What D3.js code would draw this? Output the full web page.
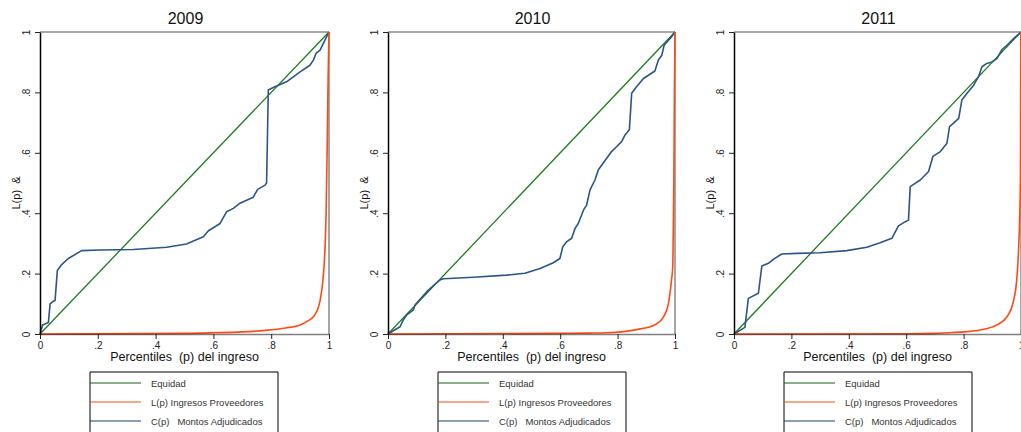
<!DOCTYPE html>
<meta charset="utf-8">
<script src="https://d3js.org/d3.v7.min.js"></script>
<style>
  body { margin: 0; background: #fff; }
  text { font-family: Arial, "Liberation Sans", sans-serif; }
</style>
<div id="chart"></div>
<script>

// ---- data ----
var years = ["2009", "2010", "2011"];
var tickValues = [0, .2, .4, .6, .8, 1];
var tickLabels = ["0", ".2", ".4", ".6", ".8", "1"];
var legendLabels = ["Equidad", "L(p) Ingresos Proveedores", "C(p)   Montos Adjudicados"];

// line of equality
var equidad = [[0, 0], [1, 1]];

// C(p) montos adjudicados, [p, value]
var c2009 = [[0,0],[0.009,0.03],[0.029,0.038],[0.035,0.10],[0.048,0.11],[0.052,0.11],[0.06,0.21],[0.075,0.23],
  [0.098,0.25],[0.144,0.276],[0.208,0.278],[0.323,0.28],[0.438,0.287],[0.507,0.298],[0.565,0.322],[0.583,0.342],
  [0.623,0.366],[0.646,0.405],[0.669,0.416],[0.692,0.433],[0.738,0.453],[0.753,0.479],[0.779,0.493],[0.784,0.50],
  [0.79,0.808],[0.807,0.816],[0.853,0.835],[0.9,0.868],[0.934,0.89],[0.946,0.907],[0.955,0.929],[0.969,0.94],
  [0.986,0.973],[1,1]];
var c2010 = [[0,0],[0.042,0.024],[0.053,0.046],[0.065,0.063],[0.088,0.079],[0.094,0.096],[0.135,0.14],[0.181,0.179],
  [0.193,0.183],[0.297,0.188],[0.413,0.195],[0.477,0.201],[0.53,0.217],[0.576,0.236],[0.599,0.25],[0.609,0.289],
  [0.623,0.306],[0.64,0.317],[0.652,0.35],[0.663,0.366],[0.681,0.41],[0.692,0.427],[0.704,0.477],[0.721,0.51],
  [0.733,0.544],[0.762,0.582],[0.779,0.604],[0.797,0.621],[0.814,0.637],[0.826,0.659],[0.841,0.676],[0.849,0.797],
  [0.866,0.819],[0.89,0.846],[0.93,0.871],[0.942,0.907],[0.954,0.923],[0.962,0.956],[0.977,0.973],[0.988,0.984],[1,1]];
var c2011 = [[0,0],[0.038,0.022],[0.05,0.118],[0.085,0.135],[0.097,0.225],[0.12,0.234],[0.137,0.247],[0.166,0.265],
  [0.219,0.267],[0.3,0.269],[0.393,0.276],[0.463,0.287],[0.509,0.302],[0.55,0.317],[0.573,0.358],[0.597,0.372],
  [0.608,0.377],[0.614,0.488],[0.631,0.499],[0.649,0.51],[0.678,0.538],[0.693,0.588],[0.719,0.604],[0.742,0.632],
  [0.751,0.687],[0.765,0.698],[0.783,0.714],[0.794,0.775],[0.812,0.797],[0.835,0.824],[0.852,0.852],[0.864,0.885],
  [0.881,0.896],[0.899,0.901],[0.916,0.912],[0.934,0.942],[0.951,0.956],[0.974,0.978],[1,1]];

// L(p) ingresos proveedores, [p, value]
var l2009 = [[0,0],[0.5,0.002],[0.6,0.004],[0.7,0.007],[0.78,0.012],[0.85,0.02],[0.9,0.03],[0.93,0.045],[0.946,0.057],
  [0.96,0.08],[0.969,0.11],[0.978,0.17],[0.986,0.28],[0.99,0.4],[0.994,0.64],[0.997,0.85],[1,1]];
var l2010 = [[0,0],[0.6,0.002],[0.7,0.003],[0.76,0.004],[0.82,0.008],[0.88,0.017],[0.925,0.028],[0.96,0.057],
  [0.977,0.10],[0.988,0.18],[0.992,0.22],[0.994,0.34],[0.996,0.51],[0.998,0.8],[1,1]];
var l2011 = [[0,0],[0.6,0.001],[0.7,0.002],[0.742,0.004],[0.8,0.007],[0.858,0.013],[0.916,0.03],[0.951,0.057],
  [0.974,0.11],[0.986,0.19],[0.992,0.29],[0.998,0.51],[0.999,0.8],[1,1]];

var cSeries = [c2009, c2010, c2011];
var lSeries = [l2009, l2010, l2011];

// ---- layout ----
var plotLeft = [40, 388, 734];
var plotWidth = [289, 287, 287];
var plotTop = 32, plotBottom = 334;

var green = "#1f7a1f", orange = "#ff4a14", blue = "#2c5585";
var legendColors = ["#1d5e1d", "#e8521e", "#1c3d66"];

var svg = d3.select("#chart")
  .append("svg")
    .attr("width", 1021)
    .attr("height", 432);

years.forEach(function(year, i) {
  var x0 = plotLeft[i], w = plotWidth[i];
  var x = d3.scaleLinear().domain([0, 1]).range([x0, x0 + w]);
  var y = d3.scaleLinear().domain([0, 1]).range([plotBottom, plotTop]);
  var g = svg.append("g");

  // frame top / right
  g.append("line")
    .attr("x1", x0).attr("x2", x0 + w).attr("y1", plotTop).attr("y2", plotTop)
    .attr("stroke", "#555").attr("stroke-width", 1);
  g.append("line")
    .attr("x1", x0 + w).attr("x2", x0 + w).attr("y1", plotTop).attr("y2", plotBottom)
    .attr("stroke", "#888").attr("stroke-width", 1.5);

  var line = d3.line()
    .x(function(d) { return x(d[0]); })
    .y(function(d) { return y(d[1]); });

  g.append("path").datum(equidad)
    .attr("d", line).attr("fill", "none").attr("stroke", green).attr("stroke-width", 1.3);
  g.append("path").datum(cSeries[i])
    .attr("d", line).attr("fill", "none").attr("stroke", blue).attr("stroke-width", 1.6)
    .attr("stroke-linejoin", "round");
  g.append("path").datum(lSeries[i])
    .attr("d", d3.line().curve(d3.curveMonotoneX).x(function(d) { return x(d[0]); }).y(function(d) { return y(d[1]); }))
    .attr("fill", "none").attr("stroke", orange).attr("stroke-width", 1.6);

  // x axis (drawn over the curves, half transparent so the orange shows through)
  var xAxis = g.append("g")
    .attr("transform", "translate(0," + plotBottom + ")")
    .call(d3.axisBottom(x).tickValues(tickValues).tickSize(5).tickSizeOuter(0)
      .tickFormat(function(d, j) { return tickLabels[j]; }));
  xAxis.select(".domain").attr("stroke", "#000").attr("stroke-width", 1.5).attr("stroke-opacity", 0.5);
  xAxis.selectAll(".tick line").attr("stroke", "#222");
  xAxis.selectAll(".tick text")
    .attr("y", 8).attr("dy", "0.71em")
    .style("font-size", "10px").attr("fill", "#222");

  // y axis
  var yAxis = g.append("g")
    .attr("transform", "translate(" + x0 + ",0)")
    .call(d3.axisLeft(y).tickValues(tickValues).tickSize(5).tickSizeOuter(0)
      .tickFormat(function(d, j) { return tickLabels[j]; }));
  yAxis.select(".domain").attr("stroke", "#000").attr("stroke-width", 1.5);
  yAxis.selectAll(".tick line").attr("stroke", "#222");
  yAxis.selectAll(".tick text")
    .attr("x", null).attr("dy", null)
    .attr("transform", "translate(-10,0) rotate(-90)")
    .attr("text-anchor", "middle")
    .style("font-size", "10px").attr("fill", "#222");

  // title
  g.append("text")
    .attr("x", x0 + w / 2 + 1).attr("y", 24)
    .attr("text-anchor", "middle")
    .style("font-size", "16px").attr("fill", "#111")
    .text(year);

  // axis titles
  g.append("text")
    .attr("x", x0 + w / 2).attr("y", 361)
    .attr("text-anchor", "middle")
    .style("font-size", "12.5px").style("white-space", "pre").attr("fill", "#111")
    .text("Percentiles  (p) del ingreso");
  g.append("text")
    .attr("transform", "translate(" + (x0 - 20) + ",193) rotate(-90)")
    .attr("text-anchor", "middle")
    .style("font-size", "11px").style("white-space", "pre").attr("fill", "#111")
    .text("L(p)  &");

  // legend
  var lx = x0 + 50;
  var lg = g.append("g");
  lg.append("path")
    .attr("d", "M" + lx + ",440V372H" + (lx + 188) + "V440")
    .attr("fill", "none").attr("stroke", "#000").attr("stroke-width", 1);
  legendLabels.forEach(function(lab, k) {
    var ly = 383 + k * 19;
    lg.append("line")
      .attr("x1", lx).attr("x2", lx + 51).attr("y1", ly).attr("y2", ly)
      .attr("stroke", legendColors[k]).attr("stroke-width", 1);
    lg.append("text")
      .attr("x", lx + 61).attr("y", ly + 3.5)
      .style("font-size", "9.5px").style("white-space", "pre").attr("fill", "#333")
      .text(lab);
  });
});

</script>
